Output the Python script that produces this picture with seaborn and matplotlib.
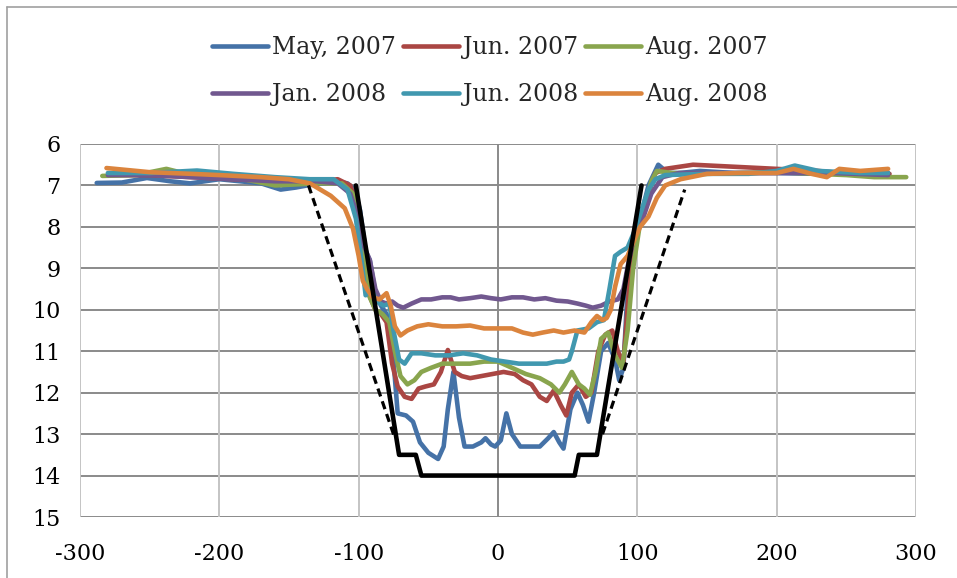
import matplotlib
matplotlib.use("Agg")
import matplotlib.pyplot as plt
import seaborn as sns
import numpy as np
import pandas as pd
from matplotlib.lines import Line2D

# Perfis medidos (posição x, profundidade y)
may07_x = [-288, -270, -252, -235, -221, -200, -185, -170, -156, -145, -137, -125, -116, -108, -103, -99, -95, -92, -88, -84,
           -80, -76, -72, -66, -61, -56, -50, -43, -39, -36, -32, -28, -24, -18, -12, -9, -5, -2, 2, 6,
           10, 16, 22, 30, 36, 40, 44, 47, 52, 57, 61, 65, 69, 74, 79, 84, 87, 90, 93, 97,
           102, 108, 115, 122, 130, 145, 170, 200, 230, 260, 280]
may07_y = [6.94, 6.93, 6.82, 6.9, 6.95, 6.85, 6.9, 6.95, 7.1, 7.05, 7.0, 6.95, 6.9, 6.95, 7.1, 7.6, 8.6, 8.8, 9.6, 9.9,
           10.1, 10.8, 12.5, 12.55, 12.7, 13.2, 13.45, 13.6, 13.3, 12.4, 11.5, 12.6, 13.3, 13.3, 13.2, 13.1, 13.25, 13.3, 13.15, 12.5,
           13.0, 13.3, 13.3, 13.3, 13.1, 12.95, 13.2, 13.35, 12.4, 12.0, 12.3, 12.7, 12.0, 11.0, 10.8, 11.2, 11.7, 11.4, 9.5, 8.4,
           7.8, 7.0, 6.5, 6.7, 6.7, 6.65, 6.7, 6.7, 6.72, 6.7, 6.7]

jun07_x = [-280, -250, -220, -190, -160, -130, -115, -106, -101, -97, -93, -88, -84, -80, -76, -72, -67, -62, -57, -52,
           -46, -41, -36, -31, -26, -20, -12, -4, 4, 12, 18, 24, 30, 35, 40, 45, 49, 53, 58, 63,
           67, 72, 77, 82, 86, 90, 94, 98, 103, 108, 113, 120, 140, 170, 200, 230, 260, 281]
jun07_y = [6.75, 6.75, 6.8, 6.85, 6.9, 6.9, 6.85, 7.0, 7.5, 8.8, 9.6, 10.0, 10.1, 10.3, 11.3, 11.85, 12.1, 12.15, 11.9, 11.85,
           11.8, 11.5, 10.97, 11.5, 11.6, 11.65, 11.6, 11.55, 11.5, 11.55, 11.7, 11.8, 12.1, 12.2, 11.95, 12.3, 12.55, 12.0, 11.8, 12.1,
           12.0, 11.0, 10.6, 10.5, 11.0, 11.3, 9.5, 8.4, 7.8, 7.2, 6.7, 6.6, 6.5, 6.55, 6.6, 6.65, 6.75, 6.72]

aug07_x = [-284, -260, -238, -220, -190, -160, -130, -112, -104, -100, -96, -92, -88, -83, -78, -74, -70, -65, -60, -55,
           -48, -40, -30, -20, -10, 0, 10, 20, 30, 38, 44, 48, 53, 58, 62, 66, 70, 74, 79, 84,
           89, 93, 97, 102, 107, 110, 114, 125, 150, 200, 250, 270, 293]
aug07_y = [6.77, 6.75, 6.6, 6.75, 6.8, 7.0, 6.95, 6.95, 7.2, 7.6, 8.8, 9.7, 10.0, 10.1, 10.3, 11.0, 11.6, 11.8, 11.7, 11.5,
           11.4, 11.3, 11.3, 11.3, 11.25, 11.25, 11.4, 11.55, 11.65, 11.8, 12.0, 11.8, 11.5, 11.8, 11.9, 12.05, 11.5, 10.7, 10.55, 11.1,
           11.4, 10.5, 9.0, 7.9, 7.3, 6.9, 6.65, 6.7, 6.72, 6.68, 6.75, 6.8, 6.8]

jan08_x = [-280, -250, -220, -190, -160, -130, -115, -106, -101, -97, -92, -88, -84, -80, -76, -72, -68, -62, -55, -48,
           -40, -34, -28, -20, -12, -5, 2, 10, 18, 26, 34, 42, 50, 57, 63, 68, 74, 80, 86, 90,
           94, 98, 104, 110, 118, 130, 160, 200, 240, 280]
jan08_y = [6.75, 6.75, 6.8, 6.85, 6.9, 6.9, 6.95, 7.2, 7.7, 8.4, 8.8, 9.5, 9.8, 9.85, 9.8, 9.9, 9.95, 9.85, 9.75, 9.75,
           9.7, 9.7, 9.75, 9.72, 9.68, 9.72, 9.75, 9.7, 9.7, 9.75, 9.72, 9.78, 9.8, 9.85, 9.9, 9.95, 9.9, 9.8, 9.75, 9.5,
           8.8, 8.2, 7.8, 7.2, 6.8, 6.7, 6.7, 6.7, 6.7, 6.75]

jun08_x = [-280, -250, -216, -190, -160, -135, -118, -108, -102, -98, -95, -91, -87, -82, -78, -75, -71, -67, -62, -55,
           -45, -35, -25, -15, -5, 5, 15, 25, 35, 42, 47, 51, 53, 57, 65, 71, 76, 80, 84, 88,
           93, 98, 103, 108, 113, 120, 150, 180, 200, 213, 230, 260, 280]
jun08_y = [6.7, 6.7, 6.64, 6.72, 6.8, 6.85, 6.85, 7.1, 7.8, 8.8, 9.65, 9.5, 9.8, 9.9, 9.85, 10.5, 11.2, 11.3, 11.05, 11.05,
           11.1, 11.1, 11.05, 11.1, 11.2, 11.25, 11.3, 11.3, 11.3, 11.25, 11.25, 11.2, 11.0, 10.5, 10.45, 10.3, 10.25, 9.5, 8.7, 8.6,
           8.5, 8.1, 7.6, 7.1, 6.85, 6.75, 6.72, 6.72, 6.65, 6.52, 6.65, 6.7, 6.7]

aug08_x = [-281, -250, -220, -200, -170, -150, -135, -120, -110, -104, -100, -97, -94, -90, -85, -80, -77, -74, -70, -65,
           -58, -50, -40, -30, -20, -10, 0, 10, 18, 25, 32, 40, 47, 55, 62, 67, 71, 75, 78, 81,
           84, 88, 93, 98, 102, 108, 114, 120, 131, 150, 175, 200, 212, 225, 236, 245, 260, 280]
aug08_y = [6.58, 6.68, 6.72, 6.75, 6.8, 6.85, 6.95, 7.25, 7.55, 8.05, 8.7, 9.3, 9.5, 9.7, 9.75, 9.6, 9.9, 10.4, 10.62, 10.5,
           10.4, 10.35, 10.4, 10.4, 10.38, 10.45, 10.45, 10.45, 10.55, 10.6, 10.55, 10.5, 10.55, 10.5, 10.55, 10.3, 10.15, 10.25, 10.2, 10.0,
           9.45, 8.9, 8.7, 8.3, 8.0, 7.75, 7.3, 7.0, 6.85, 6.72, 6.7, 6.7, 6.6, 6.72, 6.8, 6.6, 6.65, 6.6]

# Seção de projeto (linha preta) e taludes (tracejado)
design_x = [-102, -71, -59, -55, 55, 58, 71, 103]
design_y = [7, 13.5, 13.5, 14, 14, 13.5, 13.5, 7]
slope_left_x = [-136, -74]
slope_left_y = [7.0, 13.1]
slope_right_x = [75, 134]
slope_right_y = [13.0, 7.1]

series = [
    ("May, 2007", may07_x, may07_y, "#4572A7"),
    ("Jun. 2007", jun07_x, jun07_y, "#AA4643"),
    ("Aug. 2007", aug07_x, aug07_y, "#89A54E"),
    ("Jan. 2008", jan08_x, jan08_y, "#71588F"),
    ("Jun. 2008", jun08_x, jun08_y, "#4198AF"),
    ("Aug. 2008", aug08_x, aug08_y, "#DB843D"),
]

sns.set_style("white")
plt.rcParams['font.family'] = ['DejaVu Serif']

fig, ax = plt.subplots(figsize=(9.57, 5.78), dpi=100)
fig.subplots_adjust(left=80/957, right=916/957, top=1-144/578, bottom=1-517/578)

for nome, xs, ys, cor in series:
    sns.lineplot(x=xs, y=ys, ax=ax, color=cor, linewidth=3.3, label=nome,
                 sort=False, estimator=None, solid_capstyle='round', zorder=3)

sns.lineplot(x=design_x, y=design_y, ax=ax, color="black", linewidth=3.3,
             sort=False, estimator=None, legend=False, zorder=4)
for xs, ys in [(slope_left_x, slope_left_y), (slope_right_x, slope_right_y)]:
    sns.lineplot(x=xs, y=ys, ax=ax, color="black", linewidth=2.3,
                 sort=False, estimator=None, legend=False, zorder=4, linestyle=(0, (2.6, 1.6)))

ax.set_xlim(-300, 300)
ax.set_ylim(15, 6)
ax.set_xticks(np.arange(-300, 301, 100))
ax.set_yticks(np.arange(6, 16, 1))
ax.set_xticklabels([str(v) for v in range(-300, 301, 100)])
ax.tick_params(length=0, labelsize=16, colors="black")
ax.tick_params(axis='x', pad=19)
ax.tick_params(axis='y', pad=14)

# grades
for v in range(6, 16):
    ax.axhline(v, color="#8a8a8a", lw=1.4, zorder=1)
for v in range(-300, 301, 100):
    ax.axvline(v, color="#8a8a8a" if v == 0 else "#c4c4c4", lw=1.4, zorder=1)
for s in ax.spines.values():
    s.set_visible(False)

handles, labels = ax.get_legend_handles_labels()
ordem = [0, 3, 1, 4, 2, 5]
ax.get_legend().remove()
fig.legend([handles[i] for i in ordem], [labels[i] for i in ordem], ncol=3,
           loc="center", bbox_to_anchor=(490/957, 1-71/578), frameon=False,
           fontsize=17, handlelength=2.35, handletextpad=0.18, columnspacing=0.3,
           labelspacing=1.0)

# borda externa do gráfico
fig.add_artist(Line2D([7/957, 7/957], [0, 1-7/578], color="#a0a0a0", lw=1.2))
fig.add_artist(Line2D([7/957, 1], [1-7/578, 1-7/578], color="#a0a0a0", lw=1.2))

fig.savefig("out.png", dpi=100)
